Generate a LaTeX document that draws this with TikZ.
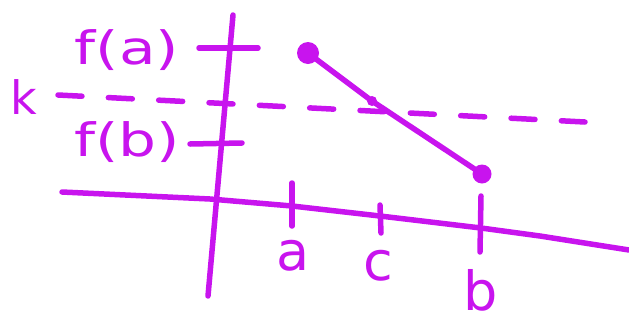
\documentclass[tikz,border=0pt]{standalone}
\usepackage{fontspec}
\setmainfont{DejaVu Sans}
\definecolor{pen}{RGB}{200,20,238}
\begin{document}
\begin{tikzpicture}[x=1pt,y=-1pt,
  ink/.style={draw=pen,line width=5.5pt,line cap=round,line join=round},
  lbl/.style={text=pen,font=\fontsize{46}{46}\selectfont,inner sep=0pt},
  big/.style={text=pen,font=\fontsize{54}{54}\selectfont,inner sep=0pt},
  dotmark/.style={circle,fill=pen,inner sep=0pt,minimum size=#1}]
\useasboundingbox (0,0) rectangle (629,322);
% axes
\coordinate (ytop) at (233,15);
\coordinate (ybot) at (208,296);
\coordinate (xl) at (62,192);
\coordinate (xr) at (629,250);
\draw[ink] (ytop) -- (ybot);
\draw[ink] (xl) -- (210,199) -- (292,206) -- (380,216) -- (481,228) -- (540,236) -- (xr);
% x ticks
\coordinate (ta1) at (292,183); \coordinate (ta2) at (292,226);
\coordinate (tc1) at (380,205); \coordinate (tc2) at (381,233);
\coordinate (tb1) at (481,196); \coordinate (tb2) at (480,252);
\draw[ink] (ta1) -- (ta2);
\draw[ink] (tc1) -- (tc2);
\draw[ink] (tb1) -- (tb2);
% y ticks
\coordinate (fa1) at (199,48); \coordinate (fa2) at (258,48);
\coordinate (fb1) at (190,144); \coordinate (fb2) at (242,143);
\draw[ink] (fa1) -- (fa2);
\draw[ink] (fb1) -- (fb2);
% labels
\node[big] (la) at (293,256) {a};
\node[big] (lc) at (378,266) {c};
\node[big] (lb) at (481,290) {b};
\node[lbl,xscale=1.3] (lfa) at (127,50) {f(a)};
\node[lbl,xscale=1.3] (lfb) at (127,142) {f(b)};
\node[lbl] (lk) at (24,97) {k};
% dashed k line
\coordinate (k1) at (58,95);
\coordinate (k2) at (585,122);
\draw[ink,dash pattern=on 24pt off 26.4pt] (k1) -- (k2);
% points and segment
\node[dotmark=22pt] (pa) at (308,53) {};
\node[dotmark=19pt] (pb) at (482,174) {};
\node[dotmark=10pt] (pc) at (372,101) {};
\draw[ink] (pa.center) -- (pc.center) -- (pb.center);
\end{tikzpicture}
\end{document}
